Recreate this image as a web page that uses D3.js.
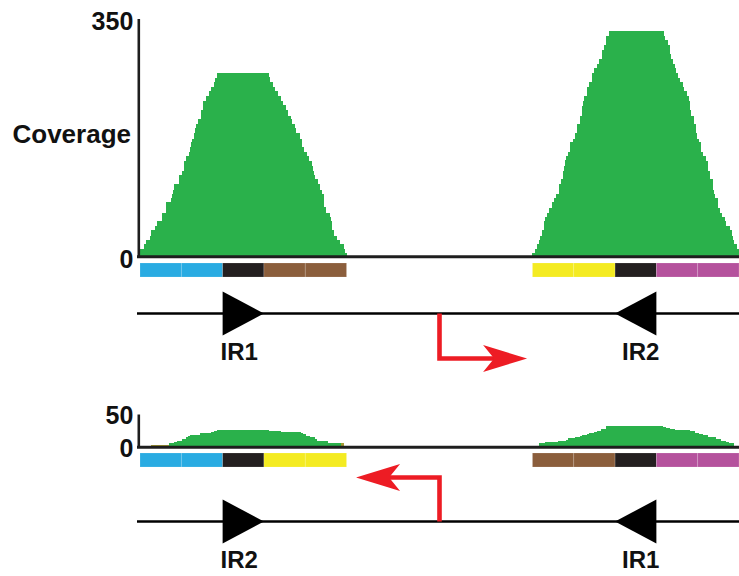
<!DOCTYPE html>
<html>
<head>
<meta charset="utf-8">
<script src="https://cdn.jsdelivr.net/npm/d3@7"></script>
<style>
  html, body { margin: 0; padding: 0; background: #fff; }
  svg { display: block; }
  text { font-family: "Liberation Sans", Arial, Helvetica, sans-serif; font-weight: bold; fill: #111; }
</style>
</head>
<body>
<svg id="chart" width="739" height="576"></svg>
<script>
// ---- data (positions in bp; each region is 500 bp, five 100-bp blocks) ----
const regionStarts = [0, 950];
const blockSize = 100;
const promoterPos = 725;

// Forward orientation: coverage over the two regions (step starts + final end)
const topLeftPos = [0,10,15,24,27,36,41,53,63,75,77,80,82,94,102,106,111,119,121,123,126,131,133,136,140,148,152,160,167,172,179,182,186,312,315,322,327,334,341,346,353,358,365,368,375,378,387,392,397,404,409,416,419,421,424,431,436,440,445,450,460,462,465,469,477,484,494,496,500];
const topLeftCov = [10,17,24,30,38,44,51,64,79,86,92,98,106,119,126,140,147,153,160,168,173,181,188,194,202,215,228,236,243,249,256,262,270,264,256,249,243,236,228,222,215,207,202,194,188,181,173,160,153,147,140,133,126,119,113,106,98,92,72,64,58,51,38,30,24,17,10,4];
const topRightPos = [0,5,12,15,19,24,27,31,36,41,48,51,58,65,68,73,77,80,82,85,90,92,97,102,109,114,119,121,123,126,131,133,136,143,145,150,157,160,169,174,177,179,186,319,322,329,334,336,341,346,348,353,358,365,368,375,378,382,385,390,397,399,402,407,409,414,421,424,426,431,436,440,443,448,455,460,465,469,479,484,486,489,494,500];
const topRightCov = [4,10,17,24,30,38,51,58,64,71,79,85,92,106,113,126,133,141,147,153,160,168,173,181,194,207,215,221,228,236,243,249,256,263,270,277,283,290,303,311,318,324,332,324,318,311,298,290,283,277,270,263,256,249,243,236,228,215,207,194,181,173,168,160,153,147,140,133,126,113,98,92,85,71,64,58,51,44,38,30,24,17,10];

// Inverted orientation
const botLeftPos = [70,82,90,102,111,116,121,145,172,179,186,312,341,390,394,402,411,424,428,455,486];
const botLeftCov = [5,7,8,12,15,16,18,21,22,24,26,24,22,21,19,16,15,12,8,5];
const botRightPos = [15,31,63,82,87,102,114,121,131,138,150,157,165,177,315,324,334,346,382,394,404,414,426,445,457,469,477,489];
const botRightCov = [5,7,8,10,13,15,16,18,19,21,22,24,27,31,30,29,27,26,24,21,19,18,15,12,8,7,5];
const botLeftLowPos = [0,27,70,486,494];
const botLeftLowCov = [1,2,0,5];
const botRightLowPos = [0,15];
const botRightLowCov = [1];

// Block annotation per region
const topBlocks = [["blue","blue","black","brown","brown"], ["yellow","yellow","black","magenta","magenta"]];
const botBlocks = [["blue","blue","black","yellow","yellow"], ["brown","brown","black","magenta","magenta"]];

const topTicks = [0, 350];
const botTicks = [0, 50];
const topLabels = ["IR1", "IR2"];
const botLabels = ["IR2", "IR1"];
const yTitle = "Coverage";

// ---- styles ----
const colors = {
  blue: "#29ABE2", black: "#231F20", brown: "#8B5E3C",
  yellow: "#F4EB22", magenta: "#B5529D"
};
const green = "#2AB14B";
const olive = "#A89C34";
const red = "#ED1C24";
const ink = "#1E1E1E";

const svg = d3.select("#chart");
const x = d3.scaleLinear().domain([0, 1450]).range([140, 739]);
const yTop = d3.scaleLinear().domain([0, 350]).range([256, 18.5]);
const yBot = d3.scaleLinear().domain([0, 50]).range([446.5, 414]);
const axisX = 138.3;

function steps(pos, cov, offset) {
  const pts = cov.map((c, i) => ({ p: pos[i] + offset, c }));
  pts.push({ p: pos[pos.length - 1] + offset, c: cov[cov.length - 1] });
  return pts;
}

function drawCoverage(y, pos, cov, offset, fill) {
  const area = d3.area().curve(d3.curveStepAfter)
    .x(d => x(d.p)).y0(y(0)).y1(d => y(d.c));
  svg.append("path").datum(steps(pos, cov, offset))
    .attr("d", area).attr("fill", fill).attr("shape-rendering", "crispEdges");
}

function drawPanel(y, ticks, dy, series, blocks, blockY) {
  series.forEach(s => drawCoverage(y, s.pos, s.cov, s.offset, s.fill));
  // y axis
  const ax = svg.append("g").attr("transform", `translate(${axisX},0)`)
    .call(d3.axisLeft(y).tickValues(ticks).tickSize(0).tickSizeOuter(0).tickPadding(5));
  ax.select(".domain").attr("stroke", ink).attr("stroke-width", 2.6);
  ax.selectAll("text").attr("font-size", 25).attr("dy", dy)
    .style("font-family", "'Liberation Sans', Arial, sans-serif").style("font-weight", "bold").attr("fill", "#111");
  // baseline
  svg.append("line").attr("x1", axisX - 1.3).attr("x2", x(1450))
    .attr("y1", y(0) + 0.8).attr("y2", y(0) + 0.8)
    .attr("stroke", ink).attr("stroke-width", 3);
  // blocks
  blocks.forEach((row, r) => {
    svg.append("g").selectAll("rect").data(row).join("rect")
      .attr("x", (d, i) => x(regionStarts[r] + i * blockSize))
      .attr("width", x(blockSize) - x(0))
      .attr("y", blockY).attr("height", 14)
      .attr("fill", d => colors[d])
      .attr("stroke", "rgba(255,255,255,0.2)").attr("stroke-width", 0.8);
  });
}

drawPanel(yTop, topTicks, "0.45em", [
  { pos: topLeftPos, cov: topLeftCov, offset: regionStarts[0], fill: green },
  { pos: topRightPos, cov: topRightCov, offset: regionStarts[1], fill: green }
], topBlocks, 263);

drawPanel(yBot, botTicks, "0.38em", [
  { pos: botLeftLowPos, cov: botLeftLowCov, offset: regionStarts[0], fill: olive },
  { pos: botRightLowPos, cov: botRightLowCov, offset: regionStarts[1], fill: olive },
  { pos: botLeftPos, cov: botLeftCov, offset: regionStarts[0], fill: green },
  { pos: botRightPos, cov: botRightCov, offset: regionStarts[1], fill: green }
], botBlocks, 453);

// y-axis title
svg.append("text").attr("x", 131).attr("y", 143).attr("text-anchor", "end")
  .attr("font-size", 26).text(yTitle);

// ---- schematic of the element with inverted repeats and promoter ----
function drawSchematic(lineY, labels, arrowDir) {
  svg.append("line").attr("x1", axisX - 1.3).attr("x2", x(1450))
    .attr("y1", lineY).attr("y2", lineY).attr("stroke", "#000").attr("stroke-width", 2.4);
  const h = 22;
  // IR on left region points right, IR on right region points left (black block)
  const lb0 = x(regionStarts[0] + 2 * blockSize), lb1 = x(regionStarts[0] + 3 * blockSize);
  const rb0 = x(regionStarts[1] + 2 * blockSize), rb1 = x(regionStarts[1] + 3 * blockSize);
  svg.append("path").attr("fill", "#000")
    .attr("d", `M${lb0},${lineY - h}L${lb1},${lineY}L${lb0},${lineY + h}Z`);
  svg.append("path").attr("fill", "#000")
    .attr("d", `M${rb1},${lineY - h}L${rb0},${lineY}L${rb1},${lineY + h}Z`);
  svg.append("text").attr("x", (lb0 + lb1) / 2 - 4).attr("y", lineY + 46.5)
    .attr("text-anchor", "middle").attr("font-size", 24).text(labels[0]);
  svg.append("text").attr("x", (rb0 + rb1) / 2 + 5).attr("y", lineY + 46.5)
    .attr("text-anchor", "middle").attr("font-size", 24).text(labels[1]);

  // promoter arrow
  const px = x(promoterPos);
  const vy = arrowDir > 0 ? lineY + 45 : lineY - 44;
  const tipX = arrowDir > 0 ? x(937) : x(523);
  const headLen = 44, headHalf = 13.5, notch = 33;
  svg.append("path").attr("fill", "none").attr("stroke", red).attr("stroke-width", 4.6)
    .attr("stroke-linejoin", "miter")
    .attr("d", `M${px},${lineY}V${vy}H${tipX - arrowDir * (notch - 2)}`);
  svg.append("path").attr("fill", red)
    .attr("d", `M${tipX},${vy}` +
      `Q${tipX - arrowDir * headLen * 0.55},${vy - headHalf * 0.55} ${tipX - arrowDir * headLen},${vy - headHalf}` +
      `L${tipX - arrowDir * notch},${vy}` +
      `L${tipX - arrowDir * headLen},${vy + headHalf}` +
      `Q${tipX - arrowDir * headLen * 0.55},${vy + headHalf * 0.55} ${tipX},${vy}Z`);
}

drawSchematic(313.5, topLabels, 1);
drawSchematic(521.5, botLabels, -1);
</script>
</body>
</html>
